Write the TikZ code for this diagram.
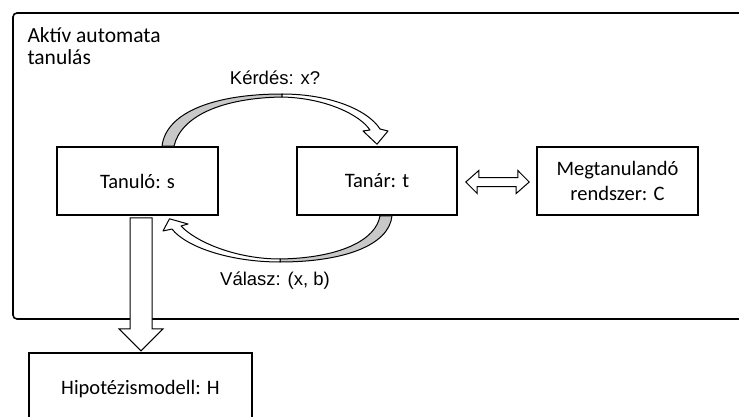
\documentclass[tikz,border=0pt]{standalone}
\usepackage{fontspec}
\setmainfont{Carlito}
\newfontfamily\arialfont{Liberation Sans}
\usetikzlibrary{positioning,calc}
\definecolor{ribgray}{RGB}{200,200,200}
\tikzset{
  every picture/.style={line width=1pt},
  blk/.style={draw,rectangle,line width=1.6pt,minimum height=68pt,minimum width=161pt,align=center,inner sep=0pt,font=\fontsize{20.5}{25}\selectfont},
  ttl/.style={inner sep=0pt,align=left,font=\fontsize{21.5}{22.3}\selectfont},
  lbl/.style={inner sep=0pt,font=\arialfont\fontsize{18.5}{22}\selectfont},
  frame/.style={line width=1.6pt,rounded corners=4pt},
  fat/.style={draw,fill=white,line width=1pt,line join=miter},
  rib/.style={draw,fill=white,line width=1pt,line join=round},
  ribshade/.style={rib,fill=ribgray},
}

\begin{document}
\begin{tikzpicture}[x=1pt,y=-1pt]
\useasboundingbox (0,0) rectangle (739,417);
% --- frame ---
\draw[frame] (760,13) -- (13,13) -- (13,319) -- (760,319);
\node[ttl,anchor=north west] (title) at (27,27) {Aktív automata\\tanulás};
% --- boxes ---
\node[blk] (learner) at (137.5,181) {Tanuló: s};
\node[blk,minimum width=160pt] (teacher) at (377,181) {Tanár: t};
\node[blk] (system) at (617.5,181) {Megtanulandó\\rendszer: C};
\node[blk,minimum width=223pt,minimum height=72pt] (model) at (140.5,389) {Hipotézismodell: H};
% --- query: learner -> teacher ---
\filldraw[ribshade] ([xshift=24.5pt]learner.north) .. controls (166,112) and (215,94) .. (282,94)
  -- (282,97) .. controls (222,98) and (181,116) .. ([xshift=36.5pt]learner.north) -- cycle;
\filldraw[rib] (282,94) .. controls (330,94) and (368,110) .. (380,129) -- (388,131)
  -- ([yshift=2pt]teacher.north) -- (363,131) -- (370,130)
  .. controls (360,115) and (326,98) .. (282,97) -- cycle;
\node[lbl] (ask) at (275,78) {Kérdés: x?};
% --- answer: teacher -> learner ---
\filldraw[ribshade] (280,259) .. controls (340,258) and (376,240) .. ([xshift=3pt]teacher.south)
  -- ([xshift=15pt]teacher.south) .. controls (389,246) and (342,262) .. (280,262) -- cycle;
\filldraw[rib] (280,262) .. controls (230,262) and (186,247) .. (172,229) -- (163,231)
  -- ([xshift=32pt,yshift=-3pt]learner.south) -- (188,224) -- (181,226)
  .. controls (196,242) and (236,259) .. (280,259) -- cycle;
\node[lbl] (answer) at (275,281) {Válasz: (x, b)};
% --- teacher <-> system ---
\filldraw[fat] ($(teacher.east)+(8,1)$) -- ++(13,-11.5) -- ++(0,7) -- ++(39,0) -- ++(0,-7)
  -- ($(system.west)+(-7,1)$) -- ++(-13,11.5) -- ++(0,-7) -- ++(-39,0) -- ++(0,7) -- cycle;
% --- learner -> model ---
\filldraw[fat] ($(learner.south)+(-7.5,2)$) -- ++(0,111) -- ++(-11,0) -- ++(22,22)
  -- ++(22,-22) -- ++(-11,0) -- ++(0,-111) -- cycle;
\end{tikzpicture}
\end{document}
